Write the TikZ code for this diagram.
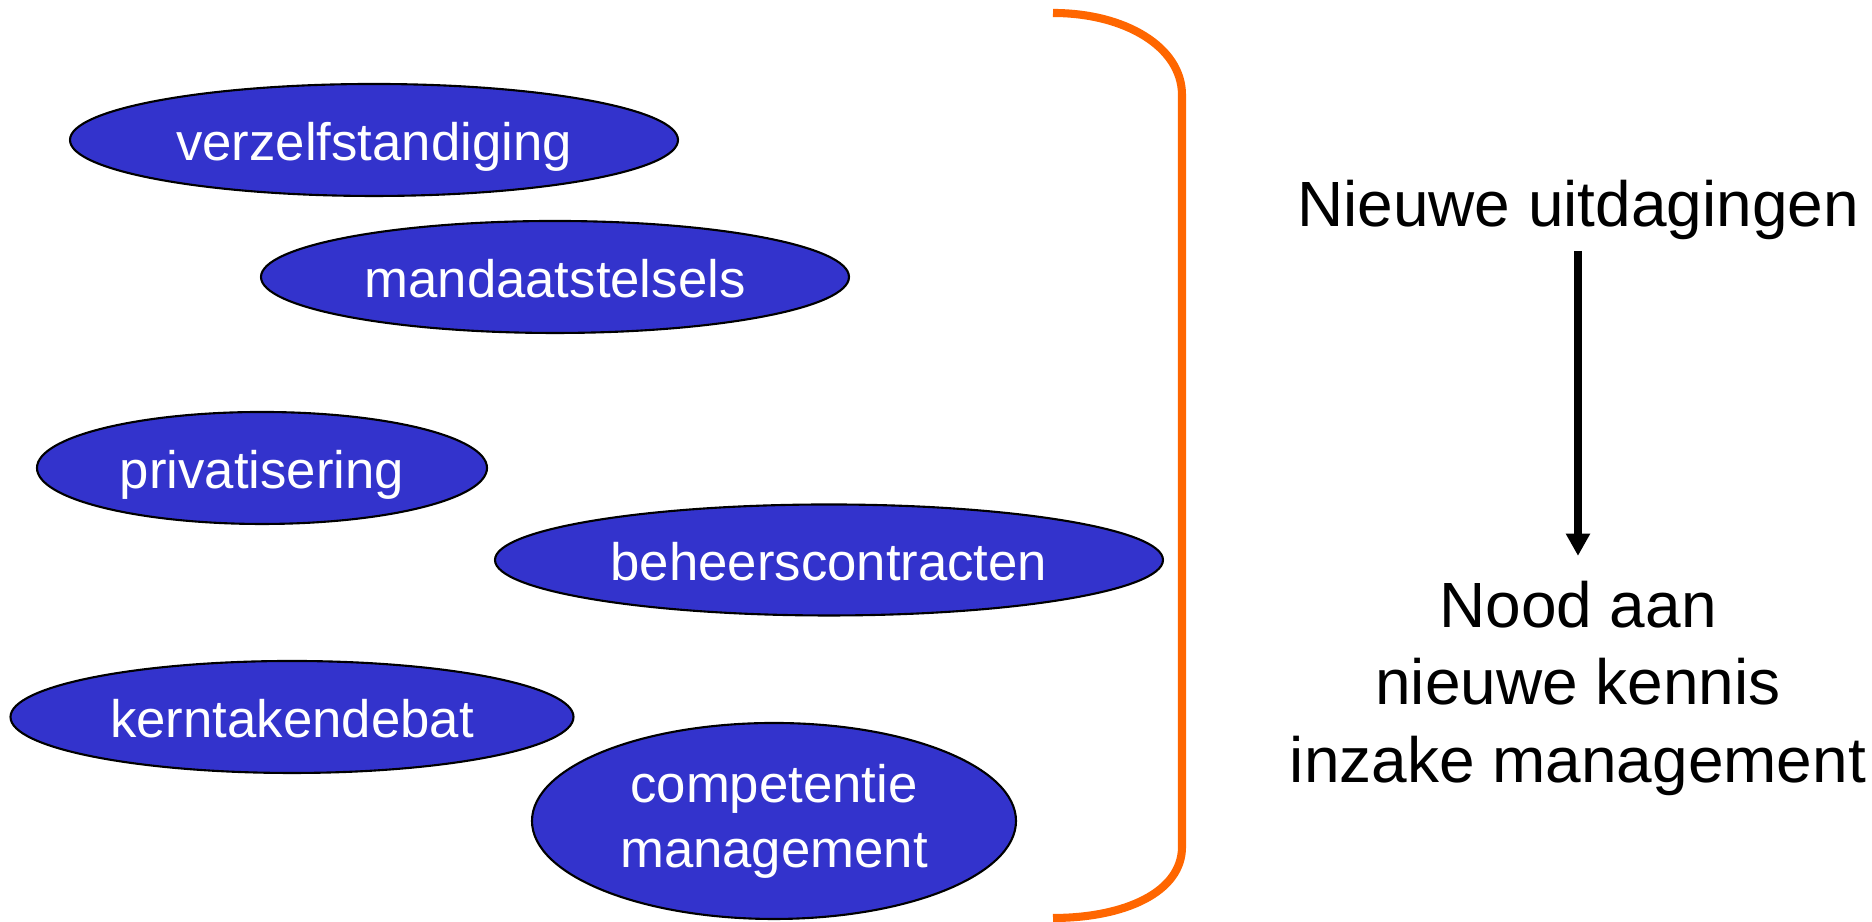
\documentclass[tikz,border=0pt]{standalone}
\usepackage{fontspec}
\setmainfont{Liberation Sans}
\usetikzlibrary{arrows.meta,shapes.geometric}

\definecolor{topicblue}{HTML}{3333CC}
\definecolor{braceorange}{HTML}{FF6600}

\begin{document}
\begin{tikzpicture}[
  topic/.style={draw=black, fill=topicblue, ellipse, line width=0.6pt,
    inner sep=0pt, text=white, align=center,
    font=\fontsize{15}{18.5}\selectfont},
  word/.style={topic, text height=13pt, text depth=1.6pt},
  claim/.style={inner sep=0pt, align=center,
    font=\fontsize{18.2}{22}\selectfont},
  ar/.style={-{Triangle[length=6.3pt,width=6.5pt]}, line width=2pt},
  bracket/.style={draw=braceorange, line width=2.3pt},
]
\useasboundingbox (0,0) rectangle (18.72,9.22);

%--- Topics ---
\node[word, minimum width=6.08cm, minimum height=1.12cm] (verz) at (3.74,7.82) {verzelfstandiging};
\node[word, minimum width=5.88cm, minimum height=1.12cm] (mand) at (5.55,6.45) {mandaatstelsels};
\node[word, minimum width=4.50cm, minimum height=1.12cm] (priv) at (2.62,4.54) {privatisering};
\node[word, minimum width=6.68cm, minimum height=1.11cm] (beh)  at (8.29,3.62) {beheerscontracten};
\node[word, minimum width=5.63cm, minimum height=1.12cm] (kern) at (2.92,2.05) {kerntakendebat};
\node[topic, minimum width=4.84cm, minimum height=1.96cm] (comp) at (7.74,1.01) {competentie\\management};

%--- Bracket ---
\draw[bracket] (10.53,9.09) .. controls (11.25,9.09) and (11.82,8.75) .. (11.82,8.27)
  -- (11.82,0.75) .. controls (11.82,0.30) and (11.25,0.04) .. (10.53,0.04);

%--- Conclusion ---
\node[claim, anchor=base]  (challenge) at (15.78,6.95) {Nieuwe uitdagingen};
\node[claim, anchor=north] (need)      at (15.78,3.415) {Nood aan\\nieuwe kennis\\inzake management};
\draw[ar, shorten <=2.8pt, shorten >=7pt] (challenge) -- (need);

\end{tikzpicture}
\end{document}
